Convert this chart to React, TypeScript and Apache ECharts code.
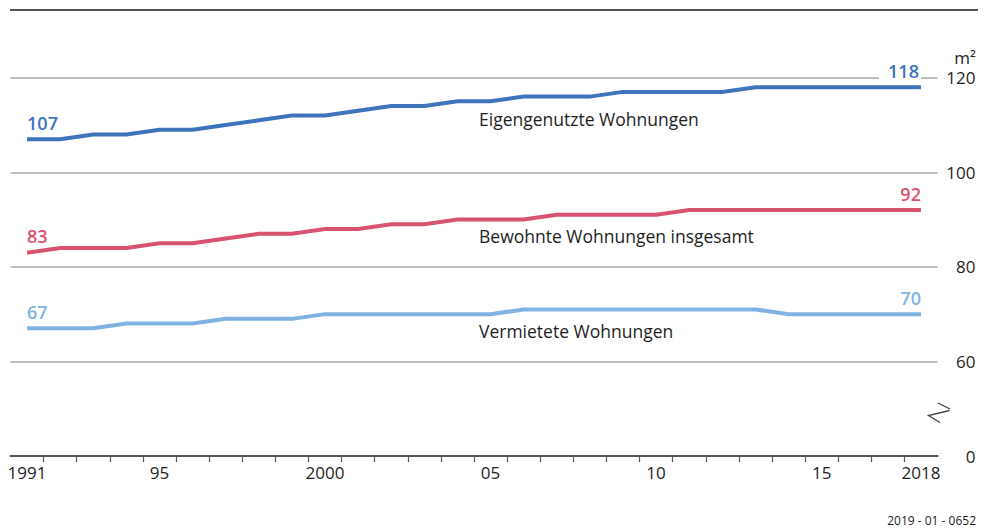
import React, { useEffect, useRef } from "react";
import * as echarts from "echarts";

const years = [
  1991, 1992, 1993, 1994, 1995, 1996, 1997, 1998, 1999, 2000, 2001, 2002, 2003, 2004,
  2005, 2006, 2007, 2008, 2009, 2010, 2011, 2012, 2013, 2014, 2015, 2016, 2017, 2018,
];
const eigengenutzt = [
  107, 107, 108, 108, 109, 109, 110, 111, 112, 112, 113, 114, 114, 115, 115, 116, 116, 116,
  117, 117, 117, 117, 118, 118, 118, 118, 118, 118,
];
const bewohnt = [
  83, 84, 84, 84, 85, 85, 86, 87, 87, 88, 88, 89, 89, 90, 90, 90, 91, 91, 91, 91, 92, 92, 92,
  92, 92, 92, 92, 92,
];
const vermietet = [
  67, 67, 67, 68, 68, 68, 69, 69, 69, 70, 70, 70, 70, 70, 70, 71, 71, 71, 71, 71, 71, 71, 71,
  70, 70, 70, 70, 70,
];
const labelYears = [1991, 1995, 2000, 2005, 2010, 2015, 2018];
const labelTexts = ["1991", "95", "2000", "05", "10", "15", "2018"];
const yTicks = [40, 60, 80, 100, 120];
const yTickTexts = ["0", "60", "80", "100", "120"];
const seriesNames = ["Eigengenutzte Wohnungen", "Bewohnte Wohnungen insgesamt", "Vermietete Wohnungen"];

const FONT = '"Open Sans", "Noto Sans", sans-serif';
const TEXT = "#1e1e1e";
const C_EIGEN = "#3d74bb";
const C_BEW = "#d8536f";
const C_VER = "#80b3e1";

function makeSeries(name: string, values: number[], color: string, whiteBg: boolean) {
  const last = values.length - 1;
  const data = values.map((v, i) => {
    const item: any = { value: [years[i], v] };
    if (i === 0 || i === last) {
      item.label = {
        show: true,
        position: "top",
        distance: 7,
        align: i === 0 ? "left" : "right",
        color,
        fontFamily: FONT,
        fontSize: 18,
        fontWeight: 600,
        formatter: String(v),
        ...(i === last && whiteBg
          ? { backgroundColor: "#ffffff", padding: [1, 2, 0, 9] }
          : {}),
      };
    }
    return item;
  });
  return {
    type: "line",
    name,
    data,
    symbol: "circle",
    symbolSize: 1,
    showSymbol: true,
    itemStyle: { color: "rgba(0,0,0,0)" },
    lineStyle: { color, width: 4, cap: "butt", join: "miter" },
    emphasis: { disabled: true },
    silent: true,
    z: 3,
  };
}

export default function App() {
  const ref = useRef<HTMLDivElement>(null);
  useEffect(() => {
    document.body.style.margin = "0";
    const chart = echarts.init(ref.current!, undefined, { renderer: "svg" });
    const nameText = (text: string, y: number) => ({
      type: "text",
      x: 479,
      y,
      style: {
        text,
        fill: TEXT,
        font: `17.5px ${FONT}`,
        textAlign: "left",
        textVerticalAlign: "middle",
      },
      silent: true,
    });
    chart.setOption({
      animation: false,
      backgroundColor: "#ffffff",
      textStyle: { fontFamily: FONT },
      grid: {
        left: 10.5,
        right: 51.5,
        top: 77.7,
        bottom: 72,
        containLabel: false,
        outerBoundsMode: "none",
      },
      xAxis: {
        type: "value",
        min: 1990.5,
        max: 2018.5,
        splitLine: { show: false },
        axisLine: { show: true, onZero: false, lineStyle: { color: "#555555", width: 2.2 } },
        axisTick: {
          show: true,
          length: 6,
          lineStyle: { color: "#555555", width: 1.2 },
          customValues: years.slice(1).map((y) => y - 0.5),
        },
        axisLabel: {
          show: true,
          margin: 8,
          color: TEXT,
          fontFamily: FONT,
          fontSize: 17,
          customValues: labelYears,
          formatter: (v: number) => {
            const idx = labelYears.indexOf(Math.round(v));
            return idx >= 0 ? labelTexts[idx] : "";
          },
        },
      },
      yAxis: {
        type: "value",
        position: "right",
        min: 40,
        max: 120,
        interval: 20,
        axisLine: { show: false },
        axisTick: { show: false },
        splitLine: { show: true, lineStyle: { color: "#a8a8a8", width: 1.5 } },
        axisLabel: {
          show: true,
          align: "right",
          margin: 38,
          color: TEXT,
          fontFamily: FONT,
          fontSize: 17,
          formatter: (v: number) => {
            const idx = yTicks.indexOf(v);
            return idx >= 0 ? yTickTexts[idx] : "";
          },
        },
      },
      series: [
        makeSeries(seriesNames[0], eigengenutzt, C_EIGEN, true),
        makeSeries(seriesNames[1], bewohnt, C_BEW, false),
        makeSeries(seriesNames[2], vermietet, C_VER, false),
      ],
      graphic: [
        {
          type: "line",
          shape: { x1: 10, y1: 10, x2: 978, y2: 10 },
          style: { stroke: "#555555", lineWidth: 2.2 },
          silent: true,
        },
        {
          type: "text",
          x: 976,
          y: 57,
          style: {
            text: "m²",
            fill: TEXT,
            font: `17px ${FONT}`,
            textAlign: "right",
            textVerticalAlign: "middle",
          },
          silent: true,
        },
        {
          type: "polyline",
          shape: { points: [[938, 403], [950, 409]] },
          style: { stroke: "#444444", lineWidth: 1.3, fill: null },
          silent: true,
        },
        {
          type: "polyline",
          shape: { points: [[949.5, 410.5], [928.5, 415.5], [940, 422.5]] },
          style: { stroke: "#444444", lineWidth: 1.3, fill: null },
          silent: true,
        },
        nameText(seriesNames[0], 119),
        nameText(seriesNames[1], 235.5),
        nameText(seriesNames[2], 331),
        {
          type: "text",
          x: 976,
          y: 520,
          style: {
            text: "2019 - 01 - 0652",
            fill: TEXT,
            font: `12px ${FONT}`,
            textAlign: "right",
            textVerticalAlign: "middle",
          },
          silent: true,
        },
      ],
    });
    return () => chart.dispose();
  }, []);
  return <div ref={ref} style={{ width: 989, height: 528 }} />;
}
